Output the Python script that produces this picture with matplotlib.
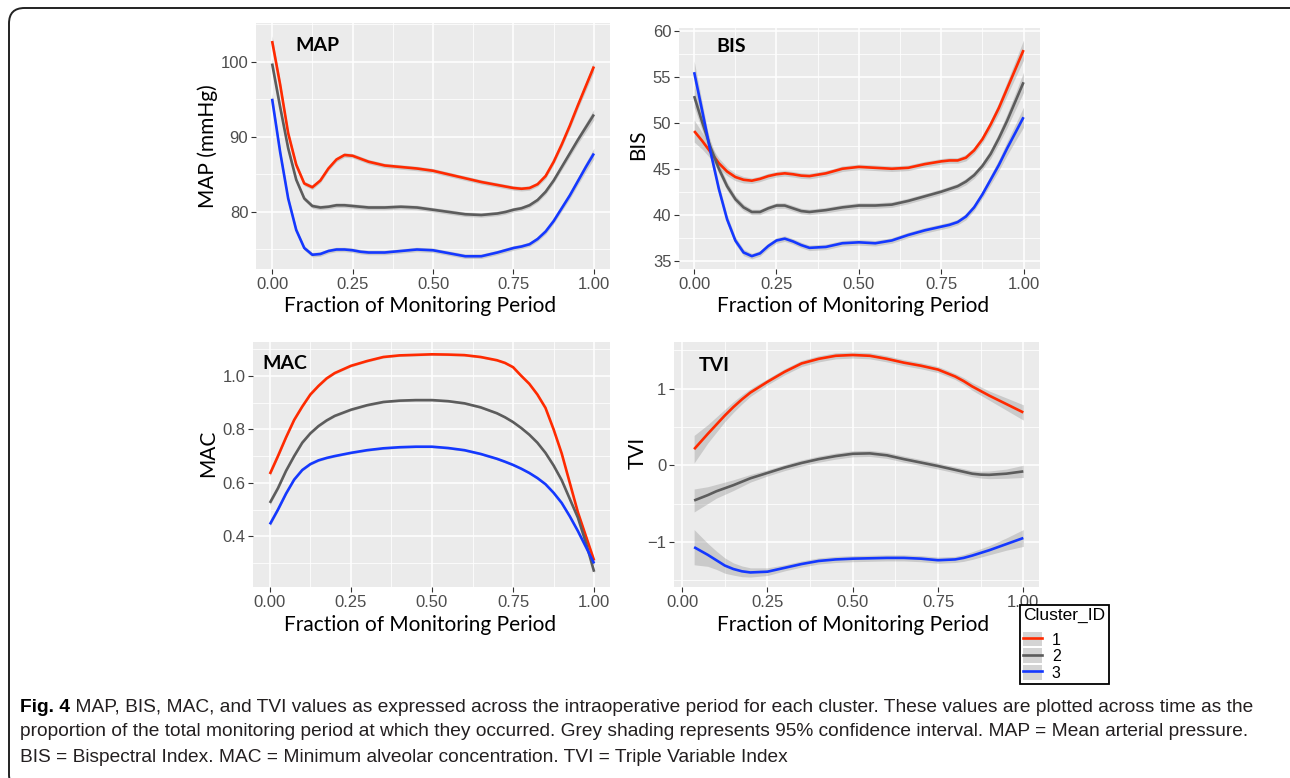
import matplotlib.pyplot as plt
from matplotlib.patches import FancyBboxPatch, Patch
from matplotlib.lines import Line2D
from matplotlib.legend_handler import HandlerTuple

# time axis (fraction of the monitoring period)
x_map = [0, .025, .05, .075, .1, .125, .15, .175, .2, .225, .25, .275, .3, .35, .4, .45, .5,
         .55, .6, .65, .7, .725, .75, .775, .8, .825, .85, .875, .9, .925, .95, .975, 1.0]
map_1 = [102.8, 97.0, 90.5, 86.3, 83.8, 83.3, 84.2, 85.8, 87.0, 87.6, 87.5, 87.1, 86.7, 86.2, 86.0, 85.8, 85.5,
         85.0, 84.5, 84.0, 83.6, 83.4, 83.2, 83.1, 83.2, 83.7, 84.8, 86.7, 89.0, 91.5, 94.2, 96.8, 99.4]
map_2 = [99.8, 94.0, 88.5, 84.3, 81.8, 80.8, 80.6, 80.7, 80.9, 80.9, 80.8, 80.7, 80.6, 80.6, 80.7, 80.6, 80.3,
         80.0, 79.7, 79.6, 79.8, 80.0, 80.3, 80.5, 80.9, 81.6, 82.7, 84.2, 86.0, 87.8, 89.6, 91.3, 93.0]
map_3 = [95.1, 88.0, 81.8, 77.6, 75.2, 74.3, 74.4, 74.8, 75.0, 75.0, 74.9, 74.7, 74.6, 74.6, 74.8, 75.0, 74.9,
         74.5, 74.1, 74.1, 74.6, 74.9, 75.2, 75.4, 75.7, 76.4, 77.4, 78.8, 80.5, 82.2, 84.1, 86.0, 87.8]
map_ci = [0.7, 0.5, 0.4, 0.35, 0.3, 0.3, 0.3, 0.3, 0.3, 0.3, 0.3, 0.3, 0.3, 0.3, 0.3, 0.3, 0.3,
          0.3, 0.3, 0.3, 0.3, 0.3, 0.3, 0.3, 0.3, 0.3, 0.35, 0.35, 0.4, 0.45, 0.5, 0.6, 0.7]

x_bis = [0, .025, .05, .075, .1, .125, .15, .175, .2, .225, .25, .275, .3, .325, .35, .4, .45,
         .5, .55, .6, .65, .7, .75, .775, .8, .825, .85, .875, .9, .925, .95, .975, 1.0]
bis_1 = [49.1, 48.0, 46.8, 45.6, 44.7, 44.1, 43.8, 43.7, 43.9, 44.2, 44.4, 44.5, 44.4, 44.25, 44.2, 44.5, 45.0,
         45.2, 45.1, 45.0, 45.1, 45.5, 45.8, 45.9, 45.9, 46.2, 47.0, 48.2, 49.8, 51.6, 53.7, 55.8, 57.9]
bis_2 = [52.9, 50.0, 47.3, 45.0, 43.1, 41.7, 40.8, 40.3, 40.3, 40.7, 41.0, 41.0, 40.7, 40.4, 40.3, 40.5, 40.8,
         41.0, 41.0, 41.1, 41.5, 42.0, 42.5, 42.8, 43.1, 43.6, 44.3, 45.3, 46.6, 48.3, 50.2, 52.3, 54.4]
bis_3 = [55.5, 51.2, 46.8, 42.8, 39.5, 37.2, 35.9, 35.5, 35.8, 36.6, 37.2, 37.4, 37.1, 36.7, 36.4, 36.5, 36.9,
         37.0, 36.9, 37.2, 37.8, 38.3, 38.7, 38.9, 39.2, 39.8, 40.8, 42.2, 43.8, 45.4, 47.2, 48.9, 50.6]
bis_ci = [1.2, 0.9, 0.7, 0.55, 0.45, 0.4, 0.35, 0.3, 0.3, 0.3, 0.3, 0.3, 0.3, 0.3, 0.3, 0.3, 0.3,
          0.3, 0.3, 0.3, 0.3, 0.3, 0.3, 0.3, 0.3, 0.35, 0.35, 0.4, 0.5, 0.6, 0.75, 0.9, 1.1]

x_mac = [0, .025, .05, .075, .1, .125, .15, .175, .2, .25, .3, .35, .4, .45, .5, .55,
         .6, .65, .7, .725, .75, .775, .8, .825, .85, .875, .9, .925, .95, .975, 1.0]
mac_1 = [0.633, 0.70, 0.77, 0.835, 0.885, 0.93, 0.962, 0.99, 1.01, 1.037, 1.055, 1.07, 1.076, 1.078, 1.08, 1.079,
         1.077, 1.07, 1.058, 1.048, 1.032, 1.0, 0.97, 0.93, 0.88, 0.80, 0.71, 0.60, 0.49, 0.40, 0.31]
mac_2 = [0.525, 0.58, 0.645, 0.70, 0.75, 0.785, 0.812, 0.833, 0.85, 0.873, 0.89, 0.902, 0.907, 0.909, 0.909, 0.905,
         0.897, 0.882, 0.86, 0.845, 0.827, 0.805, 0.78, 0.75, 0.712, 0.665, 0.61, 0.54, 0.47, 0.375, 0.268]
mac_3 = [0.445, 0.50, 0.56, 0.612, 0.648, 0.67, 0.684, 0.693, 0.70, 0.712, 0.722, 0.729, 0.733, 0.735, 0.735, 0.73,
         0.722, 0.708, 0.69, 0.679, 0.667, 0.653, 0.637, 0.618, 0.595, 0.563, 0.525, 0.475, 0.42, 0.36, 0.299]
mac_ci = [0.008, 0.006, 0.005, 0.004, 0.004, 0.004, 0.004, 0.004, 0.004, 0.004, 0.004, 0.004, 0.004, 0.004, 0.004, 0.004,
          0.004, 0.004, 0.004, 0.004, 0.004, 0.004, 0.004, 0.004, 0.004, 0.004, 0.004, 0.005, 0.005, 0.006, 0.008]

x_tvi = [0.035, 0.075, 0.1, 0.125, 0.15, 0.175, 0.2, 0.25, 0.3, 0.35, 0.4, 0.45, 0.5,
         0.55, 0.6, 0.65, 0.7, 0.75, 0.8, 0.825, 0.85, 0.875, 0.9, 0.95, 1.0]
tvi_1 = [0.21, 0.41, 0.53, 0.65, 0.76, 0.86, 0.95, 1.09, 1.22, 1.33, 1.39, 1.43, 1.44,
         1.43, 1.39, 1.34, 1.30, 1.25, 1.16, 1.10, 1.03, 0.97, 0.91, 0.80, 0.69]
tvi_2 = [-0.46, -0.39, -0.34, -0.30, -0.26, -0.215, -0.17, -0.10, -0.03, 0.03, 0.08, 0.12, 0.15,
         0.155, 0.13, 0.08, 0.035, -0.01, -0.06, -0.085, -0.11, -0.122, -0.125, -0.11, -0.08]
tvi_3 = [-1.07, -1.17, -1.24, -1.31, -1.355, -1.385, -1.40, -1.39, -1.34, -1.29, -1.25, -1.23, -1.22,
         -1.215, -1.21, -1.21, -1.22, -1.24, -1.23, -1.21, -1.18, -1.145, -1.11, -1.03, -0.95]
tvi_ci_1 = [0.18, 0.12, 0.10, 0.08, 0.07, 0.06, 0.05, 0.04, 0.04, 0.04, 0.04, 0.04, 0.04,
            0.04, 0.04, 0.04, 0.04, 0.04, 0.04, 0.045, 0.05, 0.055, 0.06, 0.08, 0.10]
tvi_ci_2 = [0.15, 0.11, 0.09, 0.08, 0.07, 0.06, 0.05, 0.04, 0.04, 0.04, 0.04, 0.04, 0.04,
            0.04, 0.04, 0.04, 0.04, 0.04, 0.04, 0.04, 0.04, 0.045, 0.05, 0.06, 0.08]
tvi_ci_3 = [0.23, 0.15, 0.12, 0.10, 0.08, 0.07, 0.06, 0.05, 0.04, 0.04, 0.04, 0.04, 0.04,
            0.04, 0.04, 0.04, 0.04, 0.04, 0.04, 0.045, 0.05, 0.055, 0.06, 0.08, 0.11]

cluster_ids = ['1', '2', '3']
colors = ['#FF2A00', '#5C5C5C', '#1438FF']

W, H = 1290, 778
label_font = 'Lato'
tick_font = 'Liberation Sans'


def fx(px):
    return px / W


def fy(py):
    return 1 - py / H


def panel(fig, box, x, series, cis, xlim, ylim, yticks, yminor, title, title_pos):
    left, top, right, bottom = box
    ax = fig.add_axes([fx(left), fy(bottom), (right - left) / W, (bottom - top) / H])
    ax.set_facecolor('#EBEBEB')
    for s in ax.spines.values():
        s.set_visible(False)
    ax.set_xlim(xlim)
    ax.set_ylim(ylim)
    ax.set_xticks([0, 0.25, 0.5, 0.75, 1.0])
    ax.set_xticklabels(['0.00', '0.25', '0.50', '0.75', '1.00'])
    ax.set_xticks([0.125, 0.375, 0.625, 0.875], minor=True)
    ax.set_yticks(yticks)
    ax.set_yticks(yminor, minor=True)
    ax.grid(which='major', color='white', lw=1.1)
    ax.grid(which='minor', color='white', lw=0.55)
    ax.set_axisbelow(True)
    ax.tick_params(which='major', length=3.5, width=0.8, color='#333333',
                   labelcolor='#4D4D4D', labelsize=12, pad=2)
    ax.tick_params(which='minor', length=0)
    for lab in ax.get_xticklabels() + ax.get_yticklabels():
        lab.set_fontfamily(tick_font)

    # grey 95% band under each smoothed line
    for (y, ci, c) in zip(series, cis, colors):
        lo = [v - e for v, e in zip(y, ci)]
        hi = [v + e for v, e in zip(y, ci)]
        ax.fill_between(x, lo, hi, color='#999999', alpha=0.4, lw=0)
        ax.plot(x, y, color=c, lw=1.9, solid_joinstyle='round', solid_capstyle='butt')

    ax.text(title_pos[0], title_pos[1], title, transform=ax.transAxes,
            fontsize=14, fontweight='bold', family=label_font, va='center', ha='left')
    return ax


fig = plt.figure(figsize=(W / 100, H / 100), dpi=100)

panel(fig, (256, 23, 610, 269), x_map, [map_1, map_2, map_3], [map_ci] * 3,
      (-0.05, 1.05), (72.4, 105.2), [80, 90, 100], [75, 85, 95, 105],
      'MAP', (0.11, 0.91))
panel(fig, (679, 28, 1040, 269), x_bis, [bis_1, bis_2, bis_3], [bis_ci] * 3,
      (-0.046, 1.05), (34.1, 60.3), [35, 40, 45, 50, 55, 60],
      [37.5, 42.5, 47.5, 52.5, 57.5], 'BIS', (0.104, 0.925))
panel(fig, (253, 342, 610, 587), x_mac, [mac_1, mac_2, mac_3], [mac_ci] * 3,
      (-0.052, 1.049), (0.211, 1.126), [0.4, 0.6, 0.8, 1.0],
      [0.3, 0.5, 0.7, 0.9, 1.1], 'MAC', (0.027, 0.913))
panel(fig, (674, 342, 1039, 587), x_tvi, [tvi_1, tvi_2, tvi_3],
      [tvi_ci_1, tvi_ci_2, tvi_ci_3],
      (-0.024, 1.046), (-1.59, 1.61), [-1, 0, 1], [-1.5, -0.5, 0.5, 1.5],
      'TVI', (0.068, 0.906))

# axis titles
xlab = 'Fraction of Monitoring Period'
for (cx, cy) in [(420, 306), (853, 306), (420, 625), (853, 625)]:
    fig.text(fx(cx), fy(cy), xlab, family=label_font, fontsize=15,
             ha='center', va='center')
for (cx, cy, t) in [(208, 146, 'MAP (mmHg)'), (638, 145, 'BIS'),
                    (208, 453, 'MAC'), (638, 453, 'TVI')]:
    fig.text(fx(cx), fy(cy), t, family=label_font, fontsize=15,
             rotation=90, ha='center', va='center')

# legend: grey key square with the cluster line drawn across it
handles = [(Patch(facecolor='#D4D4D4', edgecolor='none'),
            Line2D([], [], color=c, lw=1.9)) for c in colors]
leg = fig.legend(handles, cluster_ids, handler_map={tuple: HandlerTuple(ndivide=1, pad=0)},
                 loc='upper left', bbox_to_anchor=(fx(1020), fy(605)),
                 title='Cluster_ID', alignment='left', frameon=True, fancybox=False,
                 framealpha=1, edgecolor='black', prop={'family': tick_font, 'size': 11.5},
                 title_fontproperties={'family': tick_font, 'size': 12.5},
                 handlelength=1.2, handleheight=1.05, labelspacing=0.05,
                 handletextpad=0.6, borderpad=0.2, borderaxespad=0)
leg._legend_box.sep = 6
leg.get_frame().set_linewidth(1.3)

# caption
cap_font = 'Liberation Sans'
cap_size = 13.8
lines = [
    (' MAP, BIS, MAC, and TVI values as expressed across the intraoperative period for each cluster. '
     'These values are plotted across time as the', 707),
    ('proportion of the total monitoring period at which they occurred. Grey shading represents 95% '
     'confidence interval. MAP = Mean arterial pressure.', 732),
    ('BIS = Bispectral Index. MAC = Minimum alveolar concentration. TVI = Triple Variable Index', 757),
]
t0 = fig.text(fx(20), fy(707), 'Fig. 4', family=cap_font, fontsize=cap_size,
              fontweight='bold', va='center', ha='left')
fig.canvas.draw()
bb = t0.get_window_extent()
fig.text(bb.x1 / W, fy(707), lines[0][0], family=cap_font, fontsize=cap_size,
         va='center', ha='left', color='#231F20')
for txt, y in lines[1:]:
    fig.text(fx(20), fy(y), txt, family=cap_font, fontsize=cap_size,
             va='center', ha='left', color='#231F20')

# rounded outer frame
frame = FancyBboxPatch((fx(9), fy(790)), (1320 - 9) / W, (790 - 8) / H,
                       boxstyle='round,pad=0,rounding_size=0.012',
                       transform=fig.transFigure, fill=False, lw=1.4,
                       edgecolor='#222222', mutation_aspect=W / H)
fig.add_artist(frame)

fig.savefig('out.png', dpi=100)
